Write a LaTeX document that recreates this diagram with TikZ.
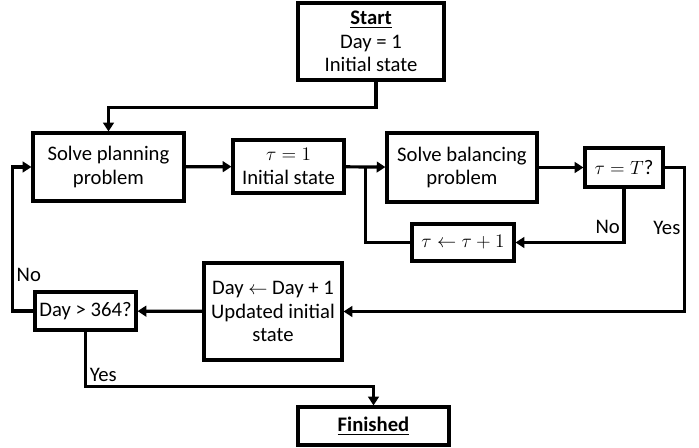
\documentclass[tikz,border=0pt]{standalone}
\usepackage{fontspec}
\setmainfont{Carlito}
\usetikzlibrary{arrows.meta, positioning, calc}

\begin{document}
\begin{tikzpicture}[
  x=0.75pt, y=-0.75pt,
  stepbox/.style={draw, line width=2.4pt, rectangle, inner sep=0pt, align=center, font=\fontsize{15.5}{17.5}\selectfont},
  flow/.style={-{Triangle[length=6.5pt, width=8pt]}, line width=2.4pt},
  line/.style={line width=2.4pt},
  edgelabel/.style={font=\fontsize{15.5}{17}\selectfont, inner sep=2pt}
]
\useasboundingbox (0,0) rectangle (699,448);

% Day loop
\node[stepbox, minimum width=109.5pt, minimum height=57.75pt] (start) at (371,41.5) {\underline{\textbf{Start}}\\Day = 1\\Initial state};
\node[stepbox, minimum width=113.25pt, minimum height=51pt] (plan) at (108.5,167) {Solve planning\\problem};
\node[stepbox, minimum width=83.25pt, minimum height=39.75pt] (tau1) at (288.5,166.5) {$\tau = 1$\\Initial state};

% Balancing loop
\node[stepbox, minimum width=112.5pt, minimum height=51.75pt] (bal) at (462,167.5) {Solve balancing\\problem};
\node[stepbox, minimum width=58.5pt, minimum height=29.25pt] (taucheck) at (624,167.5) {$\tau = T$?};
\node[stepbox, minimum width=76.5pt, minimum height=27.75pt] (tauinc) at (463,242.5) {$\tau \leftarrow \tau + 1$};

% Next day
\node[stepbox, minimum width=103.5pt, minimum height=72.75pt] (dayinc) at (273,311.5) {Day $\leftarrow$ Day + 1\\Updated initial\\state};
\node[stepbox, minimum width=75.75pt, minimum height=28.5pt] (daycheck) at (85.5,311) {Day > 364?};
\node[stepbox, minimum width=113.25pt, minimum height=28.5pt] (finish) at (373.5,426) {\underline{\textbf{Finished}}};

\coordinate (join) at ($(tau1.east)!0.5!(bal.west)$);

% Flows
\draw[flow] ([xshift=3.75pt]start.south) -- ++(0,26) -| (plan.north);
\draw[flow] (plan) -- (tau1);
\draw[flow] (tau1) -- (bal);
\draw[flow] (bal) -- (taucheck);
\draw[flow] (taucheck.south) |- (tauinc.east)
  node[edgelabel, pos=0.36, anchor=east] {No};
\draw[line] (tauinc.west) -| (join);
\draw[flow] (taucheck.east) -- ++(20,0) |- (dayinc.east)
  node[edgelabel, pos=0.21, anchor=east] {Yes};
\draw[flow] (dayinc) -- (daycheck);
\draw[flow] (daycheck.west) -- ++(-21,0) |- (plan.west)
  node[edgelabel, pos=0.125, anchor=west] {No};
\draw[flow] (daycheck.south) -- ++(0,55)
  node[edgelabel, pos=0.78, anchor=west] {Yes} -| (finish.north);

\end{tikzpicture}
\end{document}
